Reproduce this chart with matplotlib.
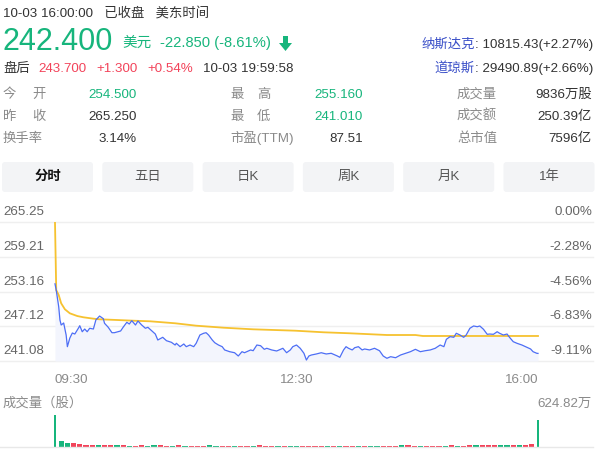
import matplotlib
matplotlib.use('Agg')
import matplotlib.pyplot as plt
import matplotlib.transforms as mtrans
from matplotlib.patches import FancyBboxPatch, Polygon

plt.rcParams['font.family'] = ['Liberation Sans', 'Noto Sans CJK SC']

# ---- data ----
prev_close = 265.25
price_ticks = [265.25, 259.21, 253.16, 247.12, 241.08]
pct_ticks = ['0.00%', '-2.28%', '-4.56%', '-6.83%', '-9.11%']
time_ticks = [0, 195, 390]
time_labels = ['09:30', '12:30', '16:00']

# minutes after 09:30 and price of the blue intraday line
px_min = [0, 1, 3, 4, 5, 7, 9, 10, 12, 14, 16, 19, 20, 22, 24, 26, 28, 31, 33, 36,
          39, 40, 43, 46, 48, 53, 55, 58, 60, 62, 65, 67, 70, 73, 75, 78, 81, 83, 87, 90,
          94, 97, 98, 101, 104, 106, 109, 112, 114, 117, 120, 122, 124, 127, 129, 132, 135, 137, 141, 145,
          148, 151, 153, 158, 160, 163, 166, 169, 171, 175, 179, 182, 184, 187, 190, 192, 195, 198, 201, 203,
          205, 207, 211, 215, 219, 223, 228, 230, 233, 235, 237, 240, 242, 245, 248, 250, 254, 258, 262, 265,
          268, 271, 275, 279, 283, 287, 291, 295, 299, 303, 307, 311, 314, 316, 319, 322, 324, 327, 330, 332,
          335, 338, 341, 343, 346, 349, 351, 354, 357, 359, 362, 365, 367, 370, 373, 377, 381, 384, 386, 389, 390]
px_val = [254.50, 253.40, 250.52, 248.21, 247.34, 247.69, 245.60, 243.57, 245.08, 245.95, 245.77, 246.82, 247.22, 246.17, 246.64, 246.17, 246.77, 246.64, 248.21, 248.90,
          248.44, 247.64, 246.94, 246.00, 246.00, 246.30, 246.94, 247.81, 247.51, 248.09, 247.34, 248.04, 247.34, 246.77, 246.94, 246.35, 245.77, 244.73, 245.20, 244.61,
          244.33, 243.86, 244.16, 243.57, 244.04, 243.57, 243.86, 243.57, 244.16, 245.60, 245.90, 246.00, 245.60, 244.73, 244.26, 243.86, 243.57, 243.00, 242.70, 242.52,
          241.95, 242.70, 242.52, 243.00, 242.87, 243.86, 243.74, 243.11, 243.29, 243.00, 242.82, 243.11, 243.29, 242.52, 243.00, 243.57, 243.86, 243.29, 242.42, 241.25,
          241.95, 242.12, 242.30, 242.52, 242.30, 242.42, 241.95, 241.72, 243.00, 243.57, 243.29, 243.00, 243.39, 243.57, 243.00, 243.17, 243.00, 243.29, 242.87, 241.95,
          241.55, 241.83, 241.65, 242.12, 242.42, 242.70, 243.11, 242.70, 242.87, 243.00, 243.29, 243.86, 243.57, 244.85, 245.31, 245.20, 245.90, 245.60, 245.20, 245.60,
          246.77, 247.17, 247.04, 247.17, 246.59, 245.72, 245.77, 245.72, 246.17, 245.90, 245.60, 245.77, 245.20, 244.44, 244.16, 243.86, 243.46, 243.17, 242.70, 242.42, 242.40]

# average price (yellow line)
avg_min = [0, 1, 3, 5, 8, 12, 18, 23, 31, 36, 50, 63, 77, 97, 114, 136, 160, 194, 217, 238, 268, 291, 297, 327, 390]
avg_val = [265.25, 253.40, 252.56, 251.11, 250.07, 249.37, 248.90, 248.68, 248.44, 248.33, 248.21, 248.09, 247.98, 247.64, 247.22, 246.87, 246.59, 246.35, 246.07, 245.90,
           245.60, 245.60, 245.43, 245.43, 245.43]

# volume bars, 5-minute steps (万股)
vol_max = 624.82
vol = [624.82, 120, 85, 70, 55, 45, 40, 35, 40, 30,
       35, 30, 28, 25, 30, 28, 45, 30, 25, 28,
       30, 25, 28, 22, 25, 30, 25, 22, 28, 25,
       22, 25, 28, 30, 25, 22, 20, 25, 28, 22,
       25, 22, 20, 25, 22, 28, 25, 22, 20, 25,
       22, 20, 25, 22, 28, 25, 30, 45, 25, 22,
       25, 28, 22, 25, 30, 25, 28, 32, 30, 35,
       30, 35, 40, 30, 35, 38, 45, 50, 530]
vol_dir = list('GGGRRRRGRR' 'GRGRRGGRRG' 'RGRRRGGRRG' 'RRGRRRGRGG'
               'RRRRGRGRRG' 'RGGRRRGRRG' 'RRRGRGRRGR' 'RRGGRGRRG')
vol_min = [5 * i for i in range(len(vol))]

GREEN = '#17b57c'
RED = '#f2435a'
BLUE_TXT = '#3b50c8'
DARK = '#333333'
GRAY = '#8a8a8a'

fig = plt.figure(figsize=(6, 4.51), dpi=100)

# overlay in pixel coordinates for the quote header
bg = fig.add_axes([0, 0, 1, 1])
bg.set_xlim(0, 600)
bg.set_ylim(451, 0)
bg.axis('off')
fs = 9.6

bg.text(3, 18, '10-03 16:00:00   已收盘   美东时间', fontsize=fs, color=DARK, va='baseline')
bg.text(2, 50, '242.400', fontsize=22, color=GREEN, va='baseline')
bg.text(122, 47, '美元', fontsize=10.5, color=GREEN, va='baseline')
bg.text(160, 47, '-22.850 (-8.61%)', fontsize=10.6, color=GREEN, va='baseline')
bg.add_patch(Polygon([(283, 36), (288, 36), (288, 43), (292, 43), (285.5, 51), (279, 43), (283, 43)],
                     closed=True, color=GREEN, lw=0))
bg.text(3, 72, '盘后', fontsize=fs, color=DARK, va='baseline')
bg.text(38, 72, '243.700', fontsize=fs, color=RED, va='baseline')
bg.text(96, 72, '+1.300', fontsize=fs, color=RED, va='baseline')
bg.text(147, 72, '+0.54%', fontsize=fs, color=RED, va='baseline')
bg.text(203, 72, '10-03 19:59:58', fontsize=fs, color=DARK, va='baseline')

bg.text(475, 48, '纳斯达克', fontsize=fs, color=BLUE_TXT, va='baseline', ha='right')
bg.text(475, 48, ': 10815.43(+2.27%)', fontsize=fs, color=DARK, va='baseline', ha='left')
bg.text(475, 72, '道琼斯', fontsize=fs, color=BLUE_TXT, va='baseline', ha='right')
bg.text(475, 72, ': 29490.89(+2.66%)', fontsize=fs, color=DARK, va='baseline', ha='left')

# stats table
rows = [98, 120, 142]
left_labels = [('今', '开'), ('昨', '收'), ('换手率', None)]
left_vals = [('254.500', GREEN), ('265.250', DARK), ('3.14%', DARK)]
mid_labels = [('最', '高'), ('最', '低'), ('市盈(TTM)', None)]
mid_vals = [('255.160', GREEN), ('241.010', GREEN), ('87.51', DARK)]
right_labels = ['成交量', '成交额', '总市值']
right_vals = ['9836万股', '250.39亿', '7596亿']
for y, (a, b), (v, c) in zip(rows, left_labels, left_vals):
    bg.text(3, y, a, fontsize=fs, color=GRAY, va='baseline')
    if b:
        bg.text(32, y, b, fontsize=fs, color=GRAY, va='baseline')
    bg.text(137, y, v, fontsize=fs, color=c, va='baseline', ha='right')
for y, (a, b), (v, c) in zip(rows, mid_labels, mid_vals):
    bg.text(230, y, a, fontsize=fs, color=GRAY, va='baseline')
    if b:
        bg.text(257, y, b, fontsize=fs, color=GRAY, va='baseline')
    bg.text(363, y, v, fontsize=fs, color=c, va='baseline', ha='right')
for y, a, v in zip(rows, right_labels, right_vals):
    bg.text(457, y, a, fontsize=fs, color=GRAY, va='baseline')
    bg.text(592, y, v, fontsize=fs, color=DARK, va='baseline', ha='right')

# tabs
tabs = ['分时', '五日', '日K', '周K', '月K', '1年']
for i, t in enumerate(tabs):
    x0 = 2 + i * 100.3
    bg.add_patch(FancyBboxPatch((x0, 162), 91, 30, boxstyle='round,pad=0,rounding_size=3',
                                facecolor='#f3f4f6', edgecolor='none'))
    bg.text(x0 + 45.5, 177, t, fontsize=fs, ha='center', va='center',
            color='#111111' if i == 0 else '#555555', fontweight='bold' if i == 0 else 'normal')

# ---- price chart ----
xl = (-44.4, 434.4)
ax = fig.add_axes([0, 1 - 361 / 451, 593 / 600, 139 / 451])
ax.set_facecolor('none')
ax.set_xlim(*xl)
ax.set_ylim(price_ticks[-1], price_ticks[0])
ax.axis('off')
for p in price_ticks:
    ax.axhline(p, color='#efefef', lw=1, clip_on=False, zorder=0)
ax.fill_between(px_min, px_val, price_ticks[-1], color='#f3f5fd', lw=0, zorder=1)
ax.plot(px_min, px_val, color='#4d6ef5', lw=0.9, zorder=3)
ax.plot(avg_min, avg_val, color='#f6c230', lw=1.3, zorder=2)

lab_tr = mtrans.offset_copy(mtrans.blended_transform_factory(ax.transAxes, ax.transData),
                            fig=fig, y=7, units='dots')
for p, s in zip(price_ticks, pct_ticks):
    ax.text(3 / 593, p, '%.2f' % p, transform=lab_tr, fontsize=fs, color='#666666',
            ha='left', va='baseline')
    ax.text(592 / 593, p, s, transform=lab_tr, fontsize=fs, color='#666666',
            ha='right', va='baseline')

xt_tr = mtrans.blended_transform_factory(ax.transData, ax.transAxes)
for m, s, ha in zip(time_ticks, time_labels, ['left', 'center', 'right']):
    ax.text(m, -22 / 139, s, transform=xt_tr, fontsize=fs, color=GRAY, ha=ha, va='baseline')

# ---- volume ----
vax = fig.add_axes([0, 1 - 447 / 451, 593 / 600, 32 / 451])
vax.set_facecolor('none')
vax.set_xlim(*xl)
vax.set_ylim(0, vol_max)
vax.axis('off')
vax.axhline(0, color='#e8e8e8', lw=1, clip_on=False)
cols = [GREEN if d == 'G' else RED for d in vol_dir]
widths = [1.2 if (i == 0 or i == len(vol) - 1) else 4.2 for i in range(len(vol))]
vax.bar(vol_min, vol, width=widths, color=cols, lw=0)
vtr = mtrans.blended_transform_factory(vax.transAxes, vax.transAxes)
vax.text(3 / 593, 40 / 32, '成交量（股）', transform=vtr, fontsize=fs, color=GRAY, va='baseline')
vax.text(592 / 593, 40 / 32, '%.2f万' % vol_max, transform=vtr, fontsize=fs, color=GRAY,
         ha='right', va='baseline')

fig.savefig('out.png', dpi=100)
